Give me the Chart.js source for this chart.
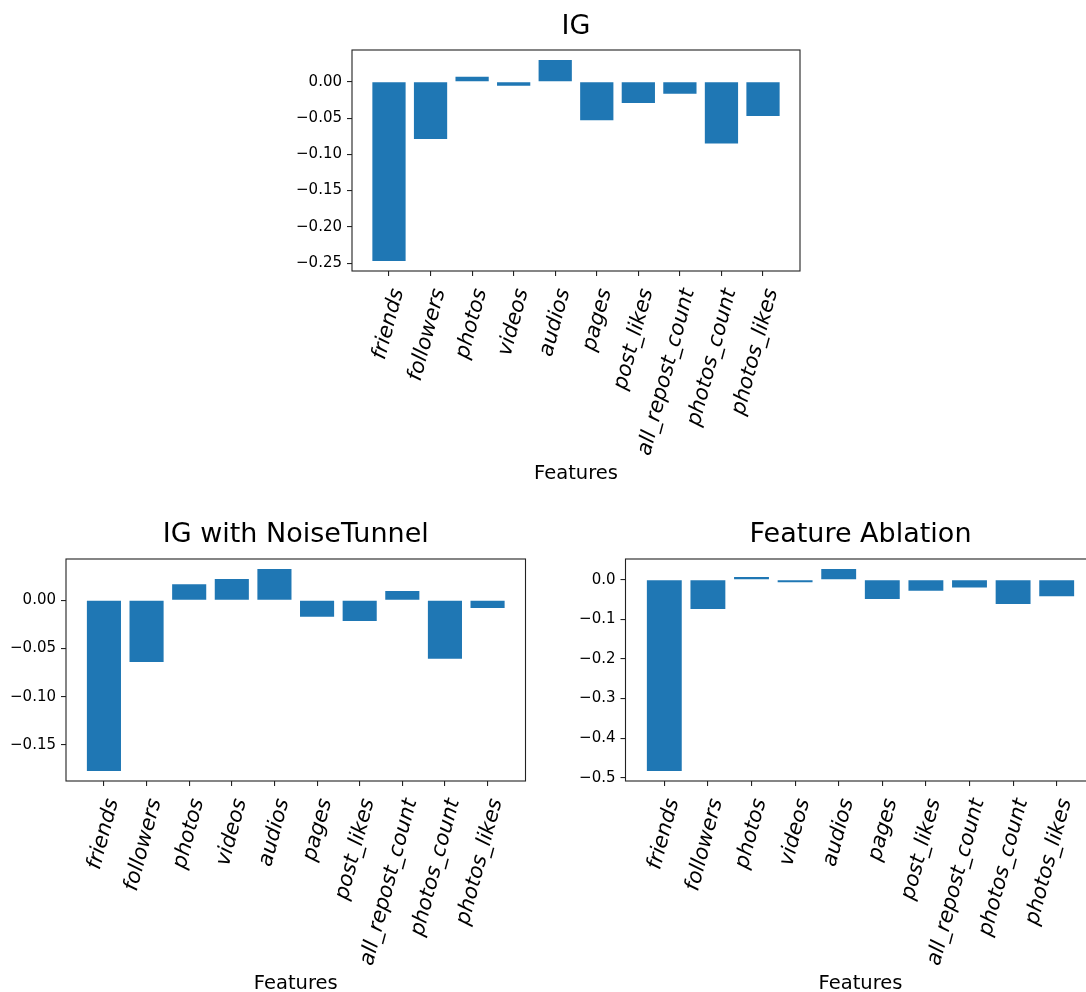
<!DOCTYPE html>
<html>
<head>
<meta charset="utf-8">
<script src="https://cdn.jsdelivr.net/npm/chart.js@4"></script>
<style>
  html, body { margin: 0; padding: 0; background: #fff; overflow: hidden; }
  body { width: 1086px; height: 992px; position: relative; }
  .panel { position: absolute; }
</style>
</head>
<body>
<div class="panel" style="left:0;top:0;width:1086px;height:500px"><canvas id="ig" width="1086" height="500"></canvas></div>
<div class="panel" style="left:0;top:500px;width:560px;height:500px"><canvas id="nt" width="560" height="500"></canvas></div>
<div class="panel" style="left:560px;top:500px;width:560px;height:500px"><canvas id="fa" width="560" height="500"></canvas></div>
<script>
// Feature names shared by every panel
const features = ['friends', 'followers', 'photos', 'videos', 'audios', 'pages',
                  'post_likes', 'all_repost_count', 'photos_count', 'photos_likes'];

// Attribution scores per method
const igValues = [-0.247, -0.079, 0.007, -0.0055, 0.030, -0.053, -0.0293, -0.0165, -0.085, -0.047];
const noiseTunnelValues = [-0.177, -0.064, 0.0167, 0.0219, 0.0323, -0.0171, -0.0216, 0.0097, -0.0608, -0.008];
const ablationValues = [-0.483, -0.0737, 0.0068, -0.006, 0.027, -0.0483, -0.028, -0.0195, -0.061, -0.0415];

// Y tick labels per panel
const igTicks = [0.00, -0.05, -0.10, -0.15, -0.20, -0.25];
const noiseTunnelTicks = [0.00, -0.05, -0.10, -0.15];
const ablationTicks = [0.0, -0.1, -0.2, -0.3, -0.4, -0.5];

const FONT = '"DejaVu Sans", sans-serif';
Chart.defaults.font.family = FONT;
Chart.defaults.color = '#000';

const BAR_COLOR = '#1f77b4';
const BAR_WIDTH = 0.8;
const MARGIN = 0.05;
const TICK_LEN = 5;

// Axes frame drawn on top of the bars
const framePlugin = {
  id: 'frame',
  afterDatasetsDraw(chart) {
    const {ctx, chartArea: a} = chart;
    ctx.save();
    ctx.strokeStyle = '#222';
    ctx.lineWidth = 1.1;
    ctx.strokeRect(a.left, a.top, a.right - a.left, a.bottom - a.top);
    ctx.restore();
  }
};

function fmt(v, decimals) {
  return v.toFixed(decimals).replace('-', '\u2212');
}

function makePanel(id, cfg) {
  const lo = Math.min(0, ...cfg.values);
  const hi = Math.max(0, ...cfg.values);
  const span = hi - lo;
  const xLo = -BAR_WIDTH / 2, xHi = cfg.values.length - 1 + BAR_WIDTH / 2;
  const xSpan = xHi - xLo;
  const gridOpts = {
    display: true, drawOnChartArea: false, drawTicks: true,
    tickLength: TICK_LEN, color: '#222', lineWidth: 1.1
  };
  return new Chart(document.getElementById(id), {
    type: 'bar',
    data: {
      datasets: [{
        data: cfg.values.map((v, i) => ({x: i, y: v})),
        backgroundColor: BAR_COLOR,
        borderWidth: 0,
        categoryPercentage: BAR_WIDTH,
        barPercentage: 1.0
      }]
    },
    options: {
      responsive: false,
      animation: false,
      events: [],
      layout: {padding: cfg.padding},
      plugins: {
        legend: {display: false},
        tooltip: {enabled: false},
        title: {
          display: true,
          text: cfg.title,
          fullSize: false,
          color: '#000',
          font: {size: 27, weight: 'normal', family: FONT},
          padding: cfg.titlePad
        }
      },
      scales: {
        x: {
          type: 'linear',
          offset: false,
          min: xLo - MARGIN * xSpan,
          max: xHi + MARGIN * xSpan,
          afterBuildTicks: (s) => { s.ticks = features.map((_, i) => ({value: i})); },
          afterFit: (s) => { s.height = cfg.xHeight; },
          ticks: {
            callback: (v, i) => features[i],
            font: {size: 21, style: 'italic', family: FONT},
            color: '#000',
            minRotation: 75,
            maxRotation: 75,
            autoSkip: false,
            padding: 10,
            labelOffset: 9
          },
          grid: Object.assign({offset: false}, gridOpts),
          border: {display: false},
          title: {
            display: true, text: 'Features', color: '#000',
            font: {size: 19.5, family: FONT}, padding: 0
          }
        },
        y: {
          type: 'linear',
          min: lo - MARGIN * span,
          max: hi + MARGIN * span,
          afterBuildTicks: (s) => { s.ticks = cfg.ticks.map((v) => ({value: v})); },
          afterFit: (s) => { s.width = 60; },
          ticks: {
            callback: (v) => fmt(v, cfg.decimals),
            font: {size: 15, family: FONT},
            color: '#000',
            padding: 5
          },
          grid: gridOpts,
          border: {display: false}
        }
      }
    },
    plugins: [framePlugin]
  });
}

makePanel('ig', {
  title: 'IG', values: igValues, ticks: igTicks, decimals: 2,
  padding: {left: 292, right: 286, top: 0, bottom: 14.5},
  titlePad: {top: 10.3, bottom: 7.3}, xHeight: 214.5
});
makePanel('nt', {
  title: 'IG with NoiseTunnel', values: noiseTunnelValues, ticks: noiseTunnelTicks, decimals: 2,
  padding: {left: 6, right: 34.5, top: 0, bottom: 4.8},
  titlePad: {top: 18.6, bottom: 8}, xHeight: 214.2
});
makePanel('fa', {
  title: 'Feature Ablation', values: ablationValues, ticks: ablationTicks, decimals: 1,
  padding: {left: 5.5, right: 24.5, top: 0, bottom: 4.8},
  titlePad: {top: 18.6, bottom: 8}, xHeight: 214.2
});
</script>
</body>
</html>
